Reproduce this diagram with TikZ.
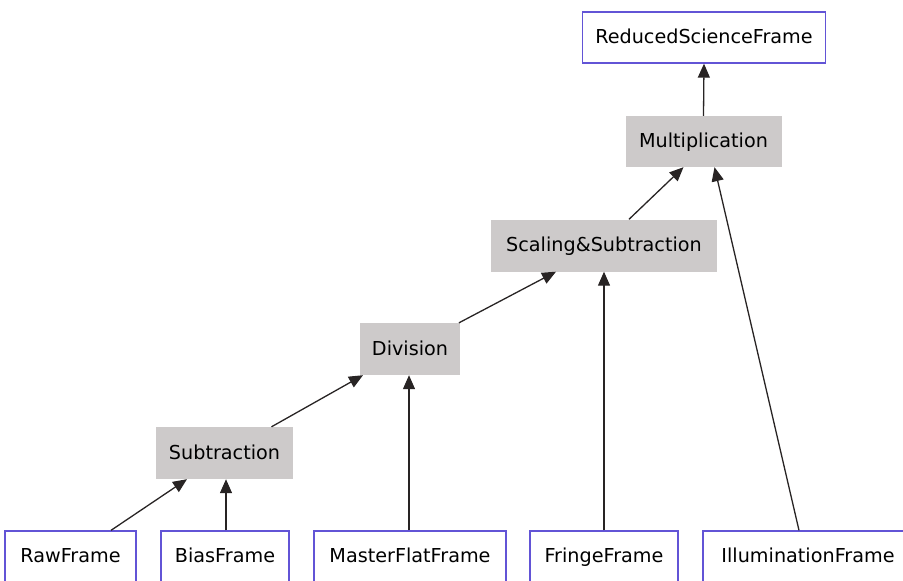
\documentclass[tikz,border=0pt]{standalone}
\usepackage{fontspec}
\setmainfont{DejaVu Sans}
\usetikzlibrary{arrows.meta}
\definecolor{boxline}{RGB}{98,84,214}
\definecolor{opfill}{RGB}{205,202,202}
\definecolor{edgecol}{RGB}{40,36,36}
\tikzset{
  x=1pt, y=-1pt,
  framebox/.style={draw=boxline, line width=1.3pt, fill=white, inner sep=0pt, text height=13.5pt, text depth=4pt, font=\fontsize{19.2pt}{21pt}\selectfont},
  opbox/.style={fill=opfill, inner sep=0pt, text height=16pt, text depth=3.5pt, font=\fontsize{19.2pt}{21pt}\selectfont},
  flow/.style={draw=edgecol, line width=1.3pt, -{Triangle[length=14pt,width=12pt]}}
}
\begin{document}
\begin{tikzpicture}
\useasboundingbox (0,0) rectangle (903,581);
\begin{scope}
\clip (0,0) rectangle (903,581);
\node[framebox, text height=16pt, text depth=3.5pt, minimum width=243pt, minimum height=51pt] (rsf) at (704,37.5) {ReducedScienceFrame};
\node[opbox, minimum width=156pt, minimum height=51pt] (mul) at (703.5,141.5) {Multiplication};
\node[opbox, minimum width=226pt, minimum height=52pt] (scl) at (604,245.5) {Scaling\&Subtraction};
\node[opbox, minimum width=100pt, minimum height=52pt] (div) at (410,349) {Division};
\node[opbox, minimum width=137pt, minimum height=52pt] (sub) at (224.5,453) {Subtraction};
\node[framebox, minimum width=131pt, minimum height=54pt] (raw) at (70.5,558) {RawFrame};
\node[framebox, minimum width=128pt, minimum height=54pt] (bias) at (225,558) {BiasFrame};
\node[framebox, minimum width=192pt, minimum height=54pt] (mff) at (410,558) {MasterFlatFrame};
\node[framebox, minimum width=148pt, minimum height=54pt] (fri) at (604,558) {FringeFrame};
\node[framebox, minimum width=210pt, minimum height=54pt] (ill) at (808,558) {IlluminationFrame};
\end{scope}
\draw[flow] ([xshift=40.5pt]raw.north) -- ([xshift=-37.5pt]sub.south);
\draw[flow] ([xshift=1pt]bias.north) -- ([xshift=1.5pt]sub.south);
\draw[flow] ([xshift=47pt]sub.north) -- ([xshift=-47pt]div.south);
\draw[flow] ([xshift=-1pt]mff.north) -- ([xshift=-1pt]div.south);
\draw[flow] ([xshift=49pt]div.north) -- ([xshift=-48pt]scl.south);
\draw[flow] (fri.north) -- (scl.south);
\draw[flow] ([xshift=25pt]scl.north) -- ([xshift=-20pt]mul.south);
\draw[flow] ([xshift=-9pt]ill.north) -- ([xshift=11pt]mul.south);
\draw[flow] (mul.north) -- (rsf.south);
\end{tikzpicture}
\end{document}
